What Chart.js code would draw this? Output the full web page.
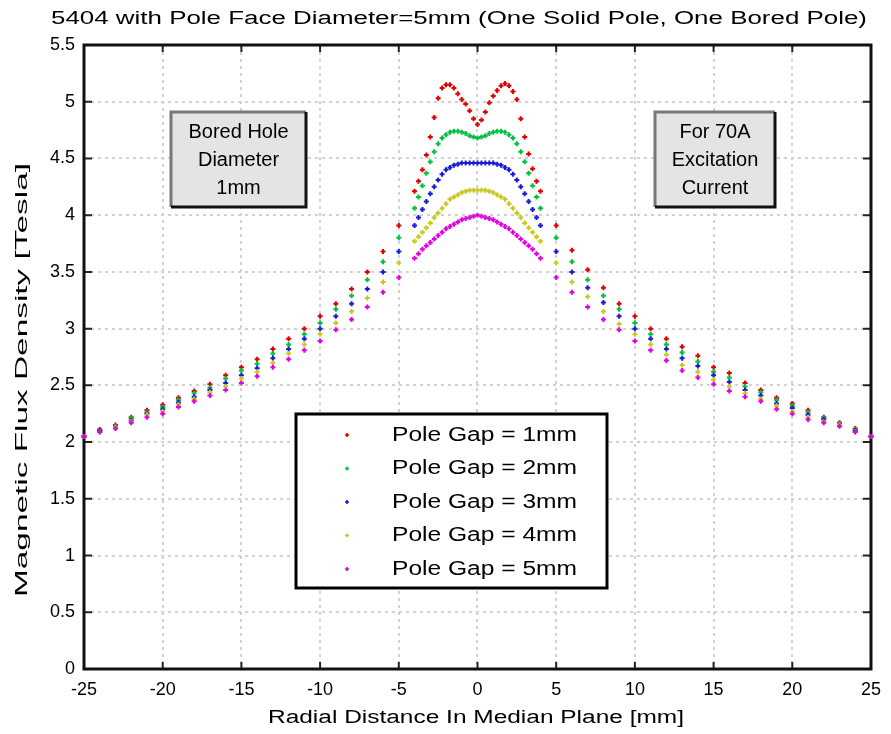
<!DOCTYPE html>
<html>
<head>
<meta charset="utf-8">
<script src="https://cdn.jsdelivr.net/npm/chart.js@4.4.1/dist/chart.umd.min.js"></script>
<style>
  html, body { margin: 0; padding: 0; background: #ffffff; }
  #wrap { width: 891px; height: 734px; }
</style>
</head>
<body>
<div id="wrap"><canvas id="chart" width="891" height="734"></canvas></div>
<script>
// radial positions [mm]: integer steps outside the pole, 0.25 mm steps across it
const distanceMm = [
  -25, -24, -23, -22, -21, -20, -19, -18, -17, -16, -15, -14, -13, -12, -11, -10, -9, -8, -7, -6, -5,
  -4, -3.75, -3.5, -3.25, -3, -2.75, -2.5, -2.25, -2, -1.75, -1.5, -1.25, -1, -0.75, -0.5, -0.25,
  0, 0.25, 0.5, 0.75, 1, 1.25, 1.5, 1.75, 2, 2.25, 2.5, 2.75, 3, 3.25, 3.5, 3.75, 4,
  5, 6, 7, 8, 9, 10, 11, 12, 13, 14, 15, 16, 17, 18, 19, 20, 21, 22, 23, 24, 25
];

const gap1mm = [
  2.05, 2.11, 2.15, 2.22, 2.28, 2.33, 2.39, 2.45, 2.51, 2.59, 2.66, 2.73, 2.82, 2.91, 3.00, 3.11, 3.22, 3.35, 3.50, 3.68, 3.91,
  4.21, 4.30, 4.40, 4.53, 4.69, 4.86, 5.03, 5.12, 5.15, 5.15, 5.12, 5.07, 5.02, 4.98, 4.92, 4.85,
  4.80, 4.84, 4.91, 4.99, 5.05, 5.10, 5.14, 5.16, 5.14, 5.09, 5.02, 4.85, 4.69, 4.54, 4.41, 4.30, 4.21,
  3.91, 3.69, 3.52, 3.36, 3.22, 3.11, 3.00, 2.91, 2.84, 2.76, 2.66, 2.61, 2.52, 2.46, 2.39, 2.34, 2.28, 2.22, 2.17, 2.12, 2.05
];
const gap2mm = [
  2.05, 2.10, 2.14, 2.21, 2.26, 2.31, 2.37, 2.43, 2.48, 2.56, 2.63, 2.69, 2.78, 2.86, 2.95, 3.05, 3.17, 3.29, 3.43, 3.59, 3.80,
  4.06, 4.16, 4.26, 4.37, 4.47, 4.56, 4.63, 4.68, 4.71, 4.73, 4.74, 4.74, 4.73, 4.72, 4.70, 4.69,
  4.68, 4.69, 4.70, 4.72, 4.73, 4.74, 4.74, 4.73, 4.71, 4.68, 4.63, 4.56, 4.47, 4.37, 4.26, 4.16, 4.06,
  3.80, 3.59, 3.43, 3.29, 3.17, 3.05, 2.95, 2.86, 2.79, 2.71, 2.62, 2.57, 2.49, 2.44, 2.37, 2.32, 2.26, 2.21, 2.16, 2.11, 2.05
];
const gap3mm = [
  2.05, 2.10, 2.13, 2.19, 2.25, 2.29, 2.35, 2.40, 2.46, 2.52, 2.59, 2.65, 2.74, 2.82, 2.91, 3.00, 3.11, 3.22, 3.35, 3.50, 3.68,
  3.91, 3.98, 4.05, 4.12, 4.19, 4.25, 4.31, 4.36, 4.40, 4.42, 4.44, 4.45, 4.46, 4.46, 4.46, 4.46,
  4.46, 4.46, 4.46, 4.46, 4.46, 4.45, 4.44, 4.42, 4.40, 4.36, 4.31, 4.25, 4.19, 4.12, 4.05, 3.98, 3.91,
  3.68, 3.50, 3.36, 3.23, 3.11, 3.00, 2.91, 2.82, 2.74, 2.67, 2.59, 2.53, 2.46, 2.41, 2.34, 2.30, 2.24, 2.20, 2.15, 2.10, 2.05
];
const gap4mm = [
  2.05, 2.09, 2.13, 2.18, 2.24, 2.27, 2.33, 2.38, 2.44, 2.49, 2.56, 2.62, 2.70, 2.78, 2.86, 2.95, 3.05, 3.15, 3.27, 3.41, 3.58,
  3.77, 3.81, 3.85, 3.89, 3.93, 3.98, 4.02, 4.06, 4.10, 4.14, 4.16, 4.18, 4.20, 4.21, 4.22, 4.22,
  4.22, 4.22, 4.22, 4.21, 4.20, 4.18, 4.16, 4.14, 4.10, 4.06, 4.02, 3.98, 3.93, 3.89, 3.85, 3.81, 3.77,
  3.58, 3.41, 3.28, 3.15, 3.04, 2.95, 2.86, 2.77, 2.68, 2.62, 2.55, 2.49, 2.43, 2.38, 2.32, 2.27, 2.22, 2.18, 2.15, 2.09, 2.05
];
const gap5mm = [
  2.05, 2.09, 2.12, 2.17, 2.22, 2.25, 2.31, 2.36, 2.41, 2.46, 2.52, 2.58, 2.66, 2.73, 2.81, 2.89, 2.99, 3.08, 3.19, 3.32, 3.45,
  3.62, 3.66, 3.70, 3.73, 3.76, 3.79, 3.82, 3.85, 3.88, 3.90, 3.92, 3.94, 3.96, 3.97, 3.98, 3.99,
  4.00, 3.99, 3.98, 3.97, 3.96, 3.94, 3.92, 3.90, 3.88, 3.85, 3.82, 3.79, 3.76, 3.73, 3.70, 3.66, 3.62,
  3.45, 3.32, 3.19, 3.08, 2.99, 2.89, 2.81, 2.72, 2.63, 2.57, 2.51, 2.45, 2.40, 2.36, 2.29, 2.25, 2.20, 2.17, 2.14, 2.09, 2.05
];

const seriesLabels = ["Pole Gap = 1mm", "Pole Gap = 2mm", "Pole Gap = 3mm", "Pole Gap = 4mm", "Pole Gap = 5mm"];
const seriesValues = [gap1mm, gap2mm, gap3mm, gap4mm, gap5mm];
const seriesColors = ["#e00000", "#00c040", "#1a1ad8", "#c8c820", "#e000e0"];

const titleText = "5404 with Pole Face Diameter=5mm (One Solid Pole, One Bored Pole)";
const xAxisTitle = "Radial Distance In Median Plane [mm]";
const yAxisTitle = "Magnetic Flux Density [Tesla]";
const leftNote = ["Bored Hole", "Diameter", "1mm"];
const rightNote = ["For 70A", "Excitation", "Current"];

const FONT = '"Liberation Sans", Arial, sans-serif';

// text squeezed/stretched to a given width, like the scanned original
function fitText(ctx, text, cx, cy, width, size, rotate) {
  ctx.save();
  ctx.font = size + "px " + FONT;
  ctx.textAlign = "center";
  ctx.textBaseline = "middle";
  ctx.fillStyle = "#000";
  const w = ctx.measureText(text).width;
  ctx.translate(cx, cy);
  if (rotate) ctx.rotate(-Math.PI / 2);
  ctx.scale(width / w, 1);
  ctx.fillText(text, 0, 0);
  ctx.restore();
}

function noteBox(ctx, lines, x, y, w, h) {
  ctx.save();
  ctx.fillStyle = "#e4e4e4";
  ctx.fillRect(x, y, w, h);
  ctx.lineWidth = 3;
  ctx.strokeStyle = "#777";
  ctx.beginPath();
  ctx.moveTo(x, y + h); ctx.lineTo(x, y); ctx.lineTo(x + w, y);
  ctx.stroke();
  ctx.strokeStyle = "#111";
  ctx.beginPath();
  ctx.moveTo(x + w, y); ctx.lineTo(x + w, y + h); ctx.lineTo(x, y + h);
  ctx.stroke();
  ctx.restore();
  const cx = x + w / 2;
  ctx.save();
  ctx.font = "20px " + FONT;
  ctx.textAlign = "center";
  ctx.textBaseline = "middle";
  ctx.fillStyle = "#000";
  lines.forEach((t, i) => ctx.fillText(t, cx, y + 20 + i * 28));
  ctx.restore();
}

const decorations = {
  id: "decorations",
  beforeDraw(chart) {
    const ctx = chart.ctx;
    ctx.save();
    ctx.fillStyle = "#fff";
    ctx.fillRect(0, 0, chart.width, chart.height);
    ctx.restore();
  },
  beforeDatasetsDraw(chart) {
    const ctx = chart.ctx;
    const a = chart.chartArea;
    const xs = chart.scales.x;
    const ys = chart.scales.y;

    // inward tick marks on all four sides
    ctx.save();
    ctx.strokeStyle = "#222";
    ctx.lineWidth = 2;
    ctx.beginPath();
    xs.ticks.forEach(t => {
      const px = xs.getPixelForValue(t.value);
      ctx.moveTo(px, a.bottom); ctx.lineTo(px, a.bottom - 7);
      ctx.moveTo(px, a.top); ctx.lineTo(px, a.top + 7);
    });
    ys.ticks.forEach(t => {
      const py = ys.getPixelForValue(t.value);
      ctx.moveTo(a.left, py); ctx.lineTo(a.left + 8, py);
      ctx.moveTo(a.right, py); ctx.lineTo(a.right - 8, py);
    });
    ctx.stroke();
    // axes box
    ctx.strokeStyle = "#111";
    ctx.lineWidth = 3;
    ctx.strokeRect(a.left, a.top, a.right - a.left, a.bottom - a.top);
    ctx.restore();
  },
  afterDraw(chart) {
    const ctx = chart.ctx;

    fitText(ctx, titleText, 459, 19, 816, 18);
    fitText(ctx, xAxisTitle, 476, 718, 416, 18);
    fitText(ctx, yAxisTitle, 22, 380, 434, 17, true);

    noteBox(ctx, leftNote, 171, 112, 135, 95);
    noteBox(ctx, rightNote, 655, 112, 120, 95);

    // legend
    ctx.save();
    ctx.fillStyle = "#fff";
    ctx.fillRect(296, 414, 311, 174);
    ctx.strokeStyle = "#000";
    ctx.lineWidth = 3;
    ctx.strokeRect(296, 414, 311, 174);
    ctx.font = "20px " + FONT;
    ctx.textBaseline = "middle";
    seriesLabels.forEach((label, i) => {
      const y = 435 + i * 33.5;
      ctx.strokeStyle = seriesColors[i];
      ctx.lineWidth = 1.6;
      ctx.beginPath();
      ctx.moveTo(345, y); ctx.lineTo(349, y);
      ctx.moveTo(347, y - 2); ctx.lineTo(347, y + 2);
      ctx.stroke();
      ctx.fillStyle = "#000";
      const w = ctx.measureText(label).width;
      ctx.save();
      ctx.translate(392, y);
      ctx.scale(185 / w, 1);
      ctx.fillText(label, 0, 0);
      ctx.restore();
    });
    ctx.restore();
  }
};

const datasets = seriesLabels.map((label, i) => ({
  label,
  data: distanceMm.map((x, k) => ({ x, y: seriesValues[i][k] })),
  pointStyle: "cross",
  pointRadius: 2.5,
  pointBorderWidth: 2,
  borderColor: seriesColors[i],
  backgroundColor: seriesColors[i],
  showLine: false,
  clip: false,
  order: seriesLabels.length - i,
}));

new Chart(document.getElementById("chart"), {
  type: "scatter",
  data: { datasets },
  options: {
    responsive: false,
    animation: false,
    events: [],
    layout: { padding: { left: 0, right: 17, top: 45, bottom: 0 } },
    plugins: {
      legend: { display: false },
      title: { display: false },
      tooltip: { enabled: false },
    },
    scales: {
      x: {
        type: "linear",
        min: -25,
        max: 25,
        afterFit: s => { s.height = 65; },
        ticks: {
          stepSize: 5,
          color: "#000",
          padding: 10,
          font: { family: FONT, size: 18 },
        },
        grid: { color: "#d2d2d2", lineWidth: 2, drawTicks: false },
        border: { display: false, dash: [3, 4] },
      },
      y: {
        type: "linear",
        min: 0,
        max: 5.5,
        afterFit: s => { s.width = 84; },
        ticks: {
          stepSize: 0.5,
          color: "#000",
          padding: 9,
          font: { family: FONT, size: 18 },
          callback: v => String(v),
        },
        grid: { color: "#d2d2d2", lineWidth: 2, drawTicks: false },
        border: { display: false, dash: [3, 4] },
      },
    },
  },
  plugins: [decorations],
});
</script>
</body>
</html>
